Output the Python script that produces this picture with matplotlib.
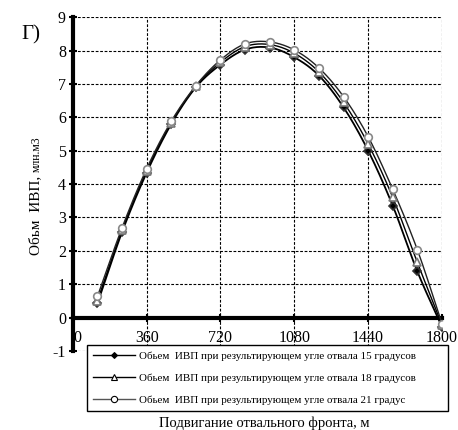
import numpy as np
import matplotlib
matplotlib.use("Agg")
import matplotlib.pyplot as plt
import matplotlib.transforms as mtransforms

plt.rcParams['font.family'] = ['Liberation Serif', 'DejaVu Serif']
plt.rcParams['axes.unicode_minus'] = False

# data
x = [120, 240, 360, 480, 600, 720, 840, 960, 1080, 1200, 1320, 1440, 1560, 1680, 1800]
v15 = [0.42, 2.56, 4.34, 5.8, 6.9, 7.58, 8.03, 8.09, 7.8, 7.25, 6.3, 5.0, 3.35, 1.38, -0.28]
v18 = [0.5, 2.62, 4.4, 5.84, 6.93, 7.65, 8.12, 8.18, 7.92, 7.36, 6.45, 5.2, 3.6, 1.65, -0.22]
v21 = [0.63, 2.69, 4.46, 5.88, 6.95, 7.72, 8.2, 8.26, 8.02, 7.48, 6.62, 5.42, 3.84, 2.03, -0.18]

labels = ["Обьем  ИВП при результирующем угле отвала 15 градусов",
          "Обьем  ИВП при результирующем угле отвала 18 градусов",
          "Обьем  ИВП при результирующем угле отвала 21 градус"]
xticks = [0, 360, 720, 1080, 1440, 1800]


def smooth(xs, ys, n=20):
    # Catmull-Rom style smoothing like the spreadsheet "smoothed line"
    xs = np.asarray(xs, float)
    ys = np.asarray(ys, float)
    px = np.concatenate([[2 * xs[0] - xs[1]], xs, [2 * xs[-1] - xs[-2]]])
    py = np.concatenate([[2 * ys[0] - ys[1]], ys, [2 * ys[-1] - ys[-2]]])
    t = np.linspace(0, 1, n)
    ox, oy = [], []
    for i in range(1, len(px) - 2):
        for p, out in ((px, ox), (py, oy)):
            p0, p1, p2, p3 = p[i - 1], p[i], p[i + 1], p[i + 2]
            out.extend(0.5 * (2 * p1 + (-p0 + p2) * t
                              + (2 * p0 - 5 * p1 + 4 * p2 - p3) * t ** 2
                              + (-p0 + 3 * p1 - 3 * p2 + p3) * t ** 3))
    return ox, oy


fig = plt.figure(figsize=(4.58, 4.30), dpi=100)
ax = fig.add_axes([0.159, 0.184, 0.806, 0.776])

styles = [
    dict(color='black', lw=1.3, marker='D', ms=4, mfc='black', mec='#333333'),
    dict(color='black', lw=1.0, marker='^', ms=5.5, mfc='white', mec='#777777'),
    dict(color='#222222', lw=1.0, marker='o', ms=5.5, mfc='white', mec='#888888'),
]

handles = []
for vals, st, lab in zip([v15, v18, v21], styles, labels):
    sx, sy = smooth(x, vals)
    ax.plot(sx, sy, color=st['color'], lw=st['lw'], zorder=3)
    ax.plot(x, vals, ls='none', marker=st['marker'], ms=st['ms'],
            mfc=st['mfc'], mec=st['mec'], mew=1.2, zorder=4)
    h, = ax.plot([], [], color=st['color'] if st['marker'] != 'o' else '#555555',
                 lw=1.0, marker=st['marker'], ms=st['ms'] - 1,
                 mfc=st['mfc'], mec='black', mew=0.8, label=lab)
    handles.append(h)

ax.set_xlim(0, 1800)
ax.set_ylim(-1, 9)
ax.set_xticks(xticks)
ax.set_yticks(range(-1, 10))
ax.grid(True, ls=(0, (2.5, 1.5)), color='black', lw=0.8)
ax.set_axisbelow(True)

ax.spines['top'].set_visible(False)
ax.spines['right'].set_visible(False)
ax.spines['left'].set_linewidth(3)
ax.spines['bottom'].set_linewidth(3)
ax.spines['bottom'].set_position(('data', 0))
ax.tick_params(direction='inout', length=6, width=1.5, labelsize=11.5, pad=2)
ax.tick_params(axis='x', pad=6)

# the "0" label sits just right of the thick left spine
fig.canvas.draw()
lbl0 = ax.get_xticklabels()[0]
lbl0.set_transform(lbl0.get_transform() +
                   mtransforms.ScaledTranslation(5 / 100, 0, fig.dpi_scale_trans))
lbl0.set_zorder(5)

fig.legend(handles=handles, loc='upper left',
           bbox_to_anchor=(87 / 458, 1 - 345 / 430, 361 / 458, 0.0),
           mode='expand', frameon=True, fancybox=False, edgecolor='black',
           framealpha=1, fontsize=7.9, handlelength=3.8, labelspacing=1.15,
           borderpad=0.55, handletextpad=0.4, borderaxespad=0)

fig.text(0.578, 0.016, "Подвигание отвального фронта, м", ha='center',
         va='center', fontsize=10.5)
fig.text(0.078, 0.600, "Обьм  ИВП, ", rotation=90, ha='center', va='top',
         fontsize=11)
fig.text(0.080, 0.600, "млн.м3", rotation=90, ha='center', va='bottom',
         fontsize=8.5)
fig.text(0.046, 0.92, "Г)", ha='left', va='center', fontsize=15)

fig.savefig("out.png", dpi=100)
